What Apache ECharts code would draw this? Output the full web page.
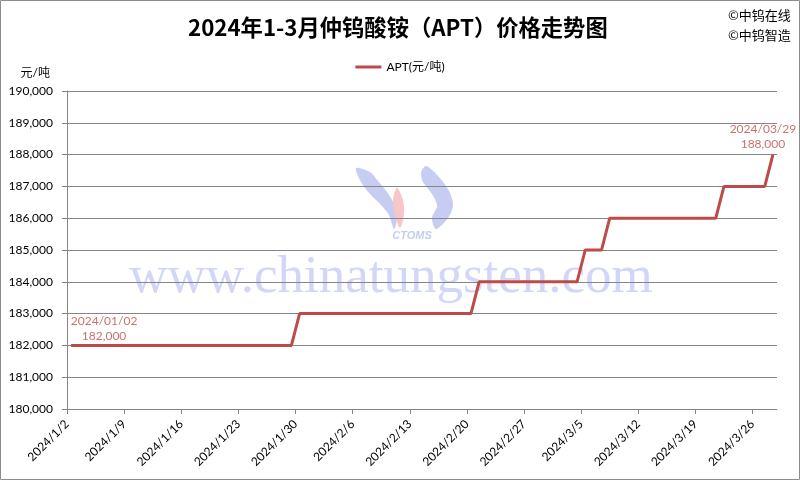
<!DOCTYPE html>
<html>
<head>
<meta charset="utf-8">
<script src="https://cdn.jsdelivr.net/npm/echarts@6/dist/echarts.min.js"></script>
<style>
html,body{margin:0;padding:0;background:#fff;}
#chart{width:800px;height:480px;}
</style>
</head>
<body>
<div id="chart"></div>
<script>
// ---- data ----
const titleText = '2024年1-3月仲钨酸铵（APT）价格走势图';
const seriesName = 'APT(元/吨)';
const unitText = '元/吨';
const startDate = '2024-01-02';
const axisEndDays = 87;
// price change points (trading days)
const dates = ['2024-01-02','2024-01-29','2024-01-30','2024-02-20','2024-02-21','2024-03-04','2024-03-05','2024-03-07','2024-03-08','2024-03-21','2024-03-22','2024-03-27','2024-03-28'];
const prices = [182000,182000,183000,183000,184000,184000,185000,185000,186000,186000,187000,187000,188000];
const tickDays = [0,7,14,21,28,35,42,49,56,63,70,77,84];
const noteTexts = ['2024/01/02','2024/03/29'];
const copyrightTexts = ['©中钨在线','©中钨智造'];
const watermarkText = 'www.chinatungsten.com';

// ---- helpers ----
const DAY = 86400000;
function parseD(s){const p=s.split('-').map(Number);return Date.UTC(p[0],p[1]-1,p[2]);}
const t0 = parseD(startDate);
function dayIdx(s){return Math.round((parseD(s)-t0)/DAY);}
function fmtTick(v){if(tickDays.indexOf(v)<0)return '';const d=new Date(t0+v*DAY);return d.getUTCFullYear()+'/'+(d.getUTCMonth()+1)+'/'+d.getUTCDate();}
function fmtNum(v){return String(v).replace(/\B(?=(\d{3})+(?!\d))/g,',');}

// points centred in their day cell (date axis "between tick marks")
const lineData = dates.map((d,i)=>[dayIdx(d)+0.5, prices[i]]);
const lastI = lineData.length-1;
const noteData = [
  {value: lineData[0], label:{position:[33,-2], formatter: noteTexts[0]+'\n'+fmtNum(prices[0])}},
  {value: lineData[lastI], label:{position:[-10,-3], formatter: noteTexts[1]+'\n'+fmtNum(prices[lastI])}}
];

const FONT = 'Lato, "Noto Sans CJK SC", sans-serif';
const RED = '#be4b48';
const GRAY = '#868686';
const LOGO_BLUE = '#c6ccf2';

const chart = echarts.init(document.getElementById('chart'), null, {renderer:'canvas'});
chart.setOption({
  backgroundColor:'#fff',
  animation:false,
  title:{
    text:titleText, left:183, top:11,
    textStyle:{fontFamily:'"Noto Sans CJK SC", sans-serif', fontWeight:'bold', fontSize:22.3, color:'#000'}
  },
  legend:{
    top:56, left:'center', data:[seriesName],
    icon:'rect', itemWidth:26, itemHeight:3, itemGap:6,
    textStyle:{fontFamily:FONT, fontSize:12, color:'#000'}
  },
  grid:{left:67, right:23, top:91, bottom:71, containLabel:false},
  xAxis:{
    type:'value', min:0, max:axisEndDays, interval:7,
    axisLine:{show:true, lineStyle:{color:GRAY, width:1}},
    axisTick:{show:true, length:5, lineStyle:{color:GRAY}, customValues:tickDays},
    axisLabel:{rotate:45, margin:13, fontFamily:FONT, fontSize:12, color:'#000', customValues:tickDays, formatter:fmtTick},
    splitLine:{show:false}
  },
  yAxis:{
    type:'value', min:180000, max:190000, interval:1000,
    name:unitText, nameLocation:'end', nameGap:12,
    nameTextStyle:{fontFamily:FONT, fontSize:12, color:'#000', align:'right', padding:[0,17,0,0]},
    axisLine:{show:true, lineStyle:{color:GRAY, width:1}},
    axisTick:{show:true, length:5, lineStyle:{color:GRAY}},
    axisLabel:{margin:14, fontFamily:FONT, fontSize:12, color:'#000', formatter:fmtNum},
    splitLine:{show:true, lineStyle:{color:GRAY, width:1}}
  },
  series:[
    {
      name:seriesName, type:'line', data:lineData, showSymbol:false, symbol:'none',
      lineStyle:{color:RED, width:3}, itemStyle:{color:RED}, z:5
    },
    {
      name:'notes', type:'scatter', data:noteData, symbolSize:0, silent:true, z:6,
      label:{show:true, align:'center', verticalAlign:'bottom', color:RED, fontFamily:FONT, fontSize:12, lineHeight:15}
    }
  ],
  graphic:[
    {type:'rect', shape:{x:0.5,y:0.5,width:799,height:479}, style:{fill:'none', stroke:'#8c8c8c', lineWidth:1}, z:-20},
    {type:'text', style:{text:copyrightTexts[0], x:728, y:15, textVerticalAlign:'middle', font:'13px "Noto Sans CJK SC", sans-serif', fill:'#000'}},
    {type:'text', style:{text:copyrightTexts[1], x:728, y:35, textVerticalAlign:'middle', font:'13px "Noto Sans CJK SC", sans-serif', fill:'#000'}},
    {type:'text', z:-10, style:{text:watermarkText, x:391, y:278, textAlign:'center', textVerticalAlign:'middle', font:'53px "Liberation Serif", serif', fill:'#d2d6f8'}},
    // CTOMS logo watermark
    {type:'polygon', z:-10, shape:{smooth:0.3, points:[[356,168],[361,182],[370,194],[381,205],[389,215],[394,229],[397,218],[394,204],[387,192],[378,181],[370,172]]}, style:{fill:LOGO_BLUE}},
    {type:'polygon', z:-10, shape:{smooth:0.3, points:[[397,188],[393,200],[395,215],[400,228],[404,214],[403,200]]}, style:{fill:'#f6c6c8'}},
    {type:'polygon', z:-10, shape:{smooth:0.3, points:[[426,166],[439,177],[449,191],[453,205],[448,218],[436,229],[432,218],[437,206],[432,194],[423,182],[421,173]]}, style:{fill:LOGO_BLUE}},
    {type:'text', z:-10, style:{text:'CTOMS', x:412, y:236, textAlign:'center', textVerticalAlign:'middle', font:'italic bold 11px "Liberation Sans", sans-serif', fill:LOGO_BLUE}}
  ]
});
</script>
</body>
</html>
